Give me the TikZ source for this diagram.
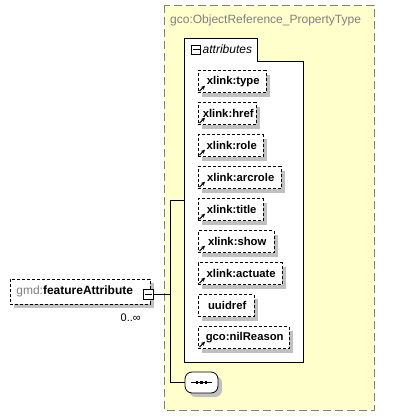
\documentclass[tikz,border=0pt]{standalone}
\usepackage{fontspec}
\setmainfont{Liberation Sans}
\usetikzlibrary{shadows,arrows.meta}
\definecolor{yellowbg}{HTML}{FFFFCC}
\definecolor{titlegray}{HTML}{808080}
\definecolor{shadowgray}{HTML}{C0C0C0}
\begin{document}
\begin{tikzpicture}[x=1pt,y=-1pt,
  every node/.style={font=\fontsize{12}{14}\selectfont, inner sep=0pt},
  boxshadow/.style={drop shadow={shadow xshift=4pt, shadow yshift=-4pt, fill=shadowgray, opacity=1}},
  attrbox/.style={draw=black, fill=white, dash pattern=on 3pt off 2pt, minimum height=22pt, anchor=west, boxshadow, font=\fontsize{11.3}{13}\selectfont\bfseries},
  elembox/.style={draw=black, fill=white, dash pattern=on 3pt off 2pt, minimum height=25pt, minimum width=140pt, anchor=north west, boxshadow},
  btnbox/.style={draw=black, fill=white, minimum width=10pt, minimum height=10pt, line width=1pt},
  seqbox/.style={draw=black, fill=white, rounded corners=7pt, minimum width=33pt, minimum height=21pt, line width=0.8pt, boxshadow},
  refarrow/.style={-{Stealth[length=4pt,width=4pt]}, line width=1.1pt, solid}
]
\useasboundingbox (0,0) rectangle (410,416);
\fill[white] (0,0) rectangle (410,416);
% complex type container
\draw[draw=titlegray, fill=yellowbg, dash pattern=on 8pt off 4pt, line width=0.8pt] (164,5) rectangle (374,410);
\node[anchor=base west, text=titlegray] (title) at (170,23.5) {gco:ObjectReference\_PropertyType};
% attributes group
\draw[fill=white, line width=0.8pt] (184,38) -- (257,38) -- (257,61) -- (303,61) -- (303,362) -- (184,362) -- cycle;
\node[btnbox, minimum width=9pt, minimum height=9pt] (abtn) at (196,49.5) {};
\draw[line width=0.8pt] (192.5,49.5) -- (199.5,49.5);
\node[anchor=west, font=\fontsize{12}{14}\selectfont\itshape] (alabel) at (202.5,49.5) {attributes};
% attributes
\foreach \nm/\yy/\ww/\txt/\ar in {type/81.5/68/xlink:type/1, href/113.5/58/xlink:href/1, role/145.5/65/xlink:role/1, arcrole/177.5/83/xlink:arcrole/1, title/209.5/65/xlink:title/1, show/241.5/76/xlink:show/1, actuate/273.5/84/xlink:actuate/1, uuidref/305.5/56/uuidref/0, nil/337.5/91/gco:nilReason/1}{
  \node[attrbox, minimum width=\ww pt] (a\nm) at (198,\yy) {\hspace*{2pt}\txt};
  \ifnum\ar=1
    \draw[refarrow] ([xshift=1.5pt,yshift=1.5pt]a\nm.south west) -- ++(5.5,-5.5);
  \fi
}
% element
\node[elembox] (fa) at (10,279) {\hspace*{-3pt}\textcolor{titlegray}{gmd:}\textbf{featureAttribute}\hspace*{8pt}};
\node[btnbox] (btn) at (148,294) {};
\draw[line width=1pt] (144.5,294) -- (151.5,294);
\node[anchor=east, font=\fontsize{11}{13}\selectfont] (card) at (141,318) {0..∞};
% sequence
\node[seqbox] (seq) at (201.5,382.5) {};
\draw[line width=0.8pt] (191,382.5) -- (212,382.5);
\foreach \xx in {197,201.5,206}{\fill (\xx-1.4,381.1) rectangle (\xx+1.4,383.9);}
% connectors
\coordinate (ta) at (170,200);
\coordinate (tm) at (170,294);
\coordinate (ts) at (170,382.5);
\coordinate (ain) at (184,200);
\draw[line width=0.8pt] (btn.east) -- (tm);
\draw[line width=0.8pt] (ain) -- (ta) -- (ts) -- (seq.west);
\end{tikzpicture}
\end{document}
